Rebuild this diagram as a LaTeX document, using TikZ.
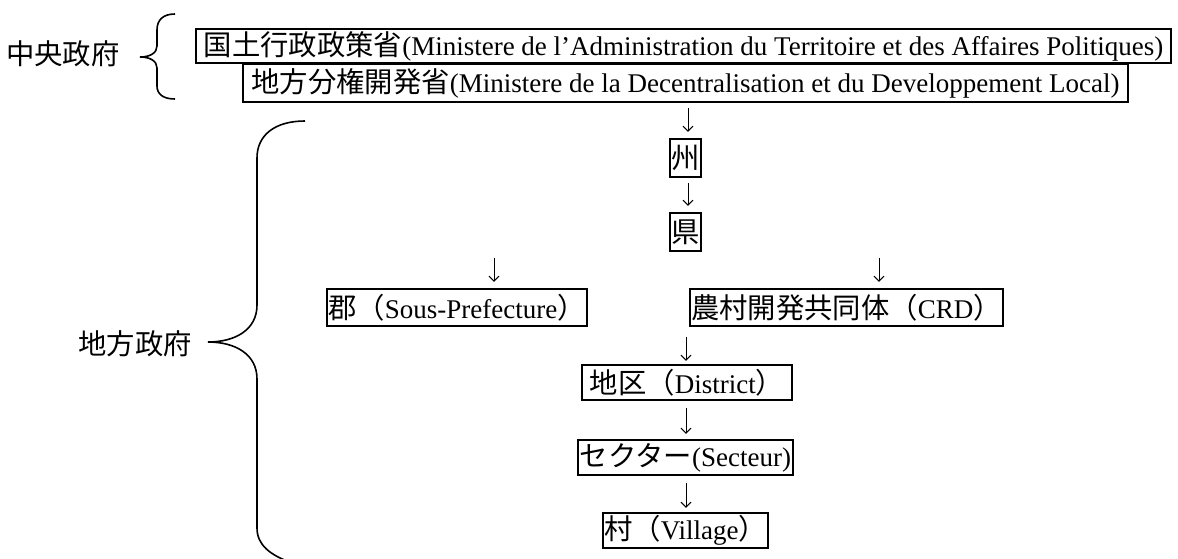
\documentclass[tikz,border=0pt]{standalone}
\usepackage{fontspec}
\setmainfont{Liberation Serif}
\newfontfamily\jp[Scale=1.05]{Noto Sans CJK JP}
\usetikzlibrary{arrows.meta}
\begin{document}
\begin{tikzpicture}[x=1pt,y=-1pt,
  txt/.style={font=\fontsize{27}{32}\selectfont, inner sep=0pt},
  box/.style={txt, draw, line width=2.3pt, inner sep=1pt, minimum height=35pt},
  arr/.style={line width=1pt, -{Straight Barb[length=5pt,width=10pt]}},
  brace/.style={line width=1.6pt}]
\useasboundingbox (0,0) rectangle (1178,559);
% labels
\node[txt] (cg) at (63,54) {\jp 中央政府};
\node[txt] (lg) at (135,344) {\jp 地方政府};
% braces
\draw[brace] (175,14) .. controls (163,14) and (157,20) .. (157,30) -- (157,46)
  .. controls (157,53) and (150,57) .. (140,57)
  .. controls (150,57) and (157,61) .. (157,68) -- (157,86)
  .. controls (157,94) and (163,99) .. (175,99);
\draw[brace] (305,121) .. controls (275,121) and (257,135) .. (257,158) -- (257,305)
  .. controls (257,330) and (235,342) .. (208,342)
  .. controls (235,342) and (257,354) .. (257,379) -- (257,528)
  .. controls (257,545) and (270,555) .. (292,563);
% boxes
\node[box, minimum width=975pt, minimum height=34pt] (m1) at (683.5,46)
  {{\jp 国土行政政策省}(Ministere de l’Administration du Territoire et des Affaires Politiques)};
\node[box, minimum width=885pt, minimum height=38pt] (m2) at (685.5,83)
  {{\jp 地方分権開発省}(Ministere de la Decentralisation et du Developpement Local)};
\node[box, minimum width=29pt, minimum height=38pt] (s1) at (685.5,158) {\jp 州};
\node[box, minimum width=29pt, minimum height=38pt] (s2) at (685.5,232) {\jp 県};
\node[box, minimum width=254pt, minimum height=37pt] (gun) at (457,307.5)
  {{\jp 郡（}Sous-Prefecture{\jp ）}};
\node[box, minimum width=227pt, minimum height=37pt] (crd) at (846.5,307.5)
  {{\jp 農村開発共同体（}CRD{\jp ）}};
\node[box, minimum width=210pt] (dist) at (687,382.5)
  {{\jp 地区（}District{\jp ）}};
\node[box, minimum width=215pt] (sec) at (685.5,457.5)
  {{\jp セクター}(Secteur)};
\node[box, minimum width=165pt] (vil) at (685.5,530.5)
  {{\jp 村（}Village{\jp ）}};
% arrows
\coordinate (a0) at (688,102);
\draw[arr, shorten <=6pt, shorten >=6pt] (a0) -- (a0 |- s1.north);
\coordinate (a1) at (688,177);
\draw[arr, shorten <=6pt, shorten >=6pt] (a1) -- (a1 |- s2.north);
\coordinate (al) at (494,258);
\draw[arr, shorten >=6pt] (al) -- (al |- gun.north);
\coordinate (ar) at (879,258);
\draw[arr, shorten >=6pt] (ar) -- (ar |- crd.north);
\coordinate (am) at (686,337);
\draw[arr, shorten >=3pt] (am) -- (am |- dist.north);
\coordinate (a2) at (686,400);
\draw[arr, shorten <=8pt, shorten >=5pt] (a2) -- (a2 |- sec.north);
\coordinate (a3) at (686,475);
\draw[arr, shorten <=8pt, shorten >=4pt] (a3) -- (a3 |- vil.north);
\end{tikzpicture}
\end{document}
